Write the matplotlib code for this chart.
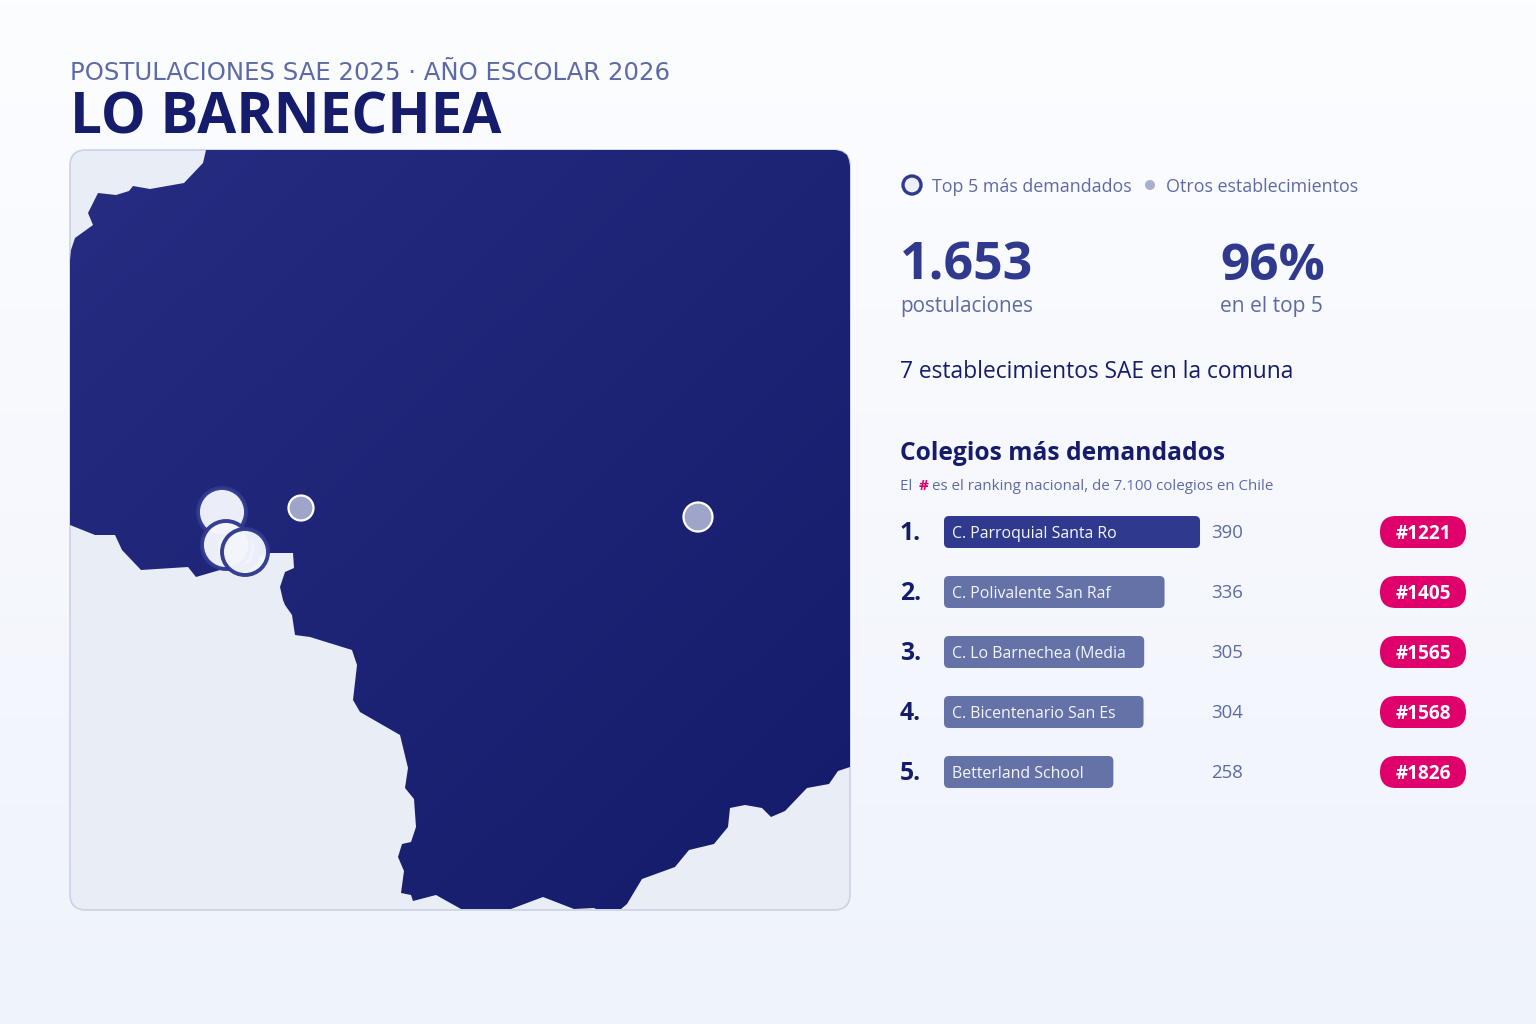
import numpy as np
import matplotlib
matplotlib.use("Agg")
import matplotlib.pyplot as plt
from matplotlib.patches import FancyBboxPatch, Circle, Polygon
from matplotlib.colors import LinearSegmentedColormap

plt.rcParams['font.family'] = ['Open Sans', 'DejaVu Sans']

# ---- data ----
schools = ["C. Parroquial Santa Ro", "C. Polivalente San Raf", "C. Lo Barnechea (Media",
           "C. Bicentenario San Es", "Betterland School"]
applications = [390, 336, 305, 304, 258]
ranks = ["#1221", "#1405", "#1565", "#1568", "#1826"]

commune_x = [206,203,184,150,133,129,116,98,88,93,75,71,70,70,95,115,122,141,188,196,220,270,293,294,285,280,283,
             285,292,295,310,352,357,353,360,400,408,405,414,416,411,402,398,404,401,411,413,436,461,511,543,574,
             594,596,621,627,642,675,689,714,728,730,745,762,771,785,807,829,838,850,850,849,847,842,836]
commune_y = [150,163,183,189,186,191,195,193,213,225,238,250,260,525,535,535,550,570,567,577,570,553,553,568,572,587,600,
             605,615,635,637,650,665,700,712,735,768,788,799,827,842,844,857,871,893,895,901,895,909,909,897,909,
             908,909,909,904,879,867,850,844,827,808,805,808,817,811,788,784,771,767,166,160,155,151.5,150]

top_x = [239, 236, 222, 226, 245]
top_y = [552, 549, 512, 545, 552]
top_r = [19, 20, 24, 24, 23]
other_x = [301, 698]
other_y = [508, 517]
other_r = [12.5, 14.5]

INK = '#151c6b'; BLUE = '#2f3a8f'; MUTED = '#5d6aa5'; PINK = '#e0006b'
W, H = 1536, 1024

fig = plt.figure(figsize=(15.36, 10.24), dpi=100)
bg = fig.add_axes([0, 0, 1, 1], zorder=0)
bg.set_xlim(0, W); bg.set_ylim(H, 0); bg.axis('off')
bgc = LinearSegmentedColormap.from_list('bg', ['#fcfdff', '#f6f8fd', '#eff3fb'])
bg.imshow(np.linspace(0, 1, 256)[:, None], cmap=bgc, extent=[0, W, H, 0], aspect='auto', zorder=0)
bg.set_xlim(0, W); bg.set_ylim(H, 0)

fg = fig.add_axes([0, 0, 1, 1], zorder=5)
fg.set_xlim(0, W); fg.set_ylim(H, 0); fg.axis('off'); fg.patch.set_alpha(0)

def T(x, y, s, size, color, weight='normal', ha='left', va='baseline', **kw):
    return fg.text(x, y, s, fontsize=size, color=color, fontweight=weight, ha=ha, va=va, **kw)

# ---- header ----
T(70, 80, "POSTULACIONES SAE 2025 · AÑO ESCOLAR 2026", 17.55, MUTED, family=['DejaVu Sans'])
T(70, 133, "LO BARNECHEA", 40.7, INK, 'bold')

# ---- map ----
mp = fig.add_axes([70/W, 1-910/H, 780/W, 760/H], zorder=1)
mp.set_xlim(70, 850); mp.set_ylim(910, 150); mp.axis('off')
card = FancyBboxPatch((70, 150), 780, 760, boxstyle='round,pad=0,rounding_size=16',
                      fc='#e9edf6', ec='#ccd2e5', lw=1.2, zorder=1, clip_on=False)
mp.add_patch(card)
poly = Polygon(np.column_stack([commune_x, commune_y]), closed=True, fc='none', ec='none',
               transform=mp.transData, zorder=2)
mp.add_patch(poly)
gx, gy = np.meshgrid(np.linspace(0, 1, 300), np.linspace(0, 1, 300))
mapc = LinearSegmentedColormap.from_list('m', ['#262d82', '#141b69'])
im = mp.imshow((gx + gy) / 2, cmap=mapc, extent=[70, 850, 910, 150], aspect='auto', zorder=2)
im.set_clip_path(poly)
mp.set_xlim(70, 850); mp.set_ylim(910, 150)

for x, y, r in zip(other_x, other_y, other_r):
    mp.add_patch(Circle((x, y), r, fc='#9ea5c9', ec='white', lw=1.6, zorder=3))
for i, (x, y, r) in enumerate(zip(top_x, top_y, top_r)):
    mp.add_patch(Circle((x, y), r, fc='#f3f6fd', ec=BLUE, lw=2.8, alpha=0.97, zorder=4 + i))

# ---- legend ----
fg.add_patch(Circle((912, 185), 9, fc='#eef1fb', ec=BLUE, lw=2.4, zorder=3))
T(932, 192, "Top 5 más demandados", 12.9, MUTED)
fg.add_patch(Circle((1150, 185), 5, fc='#a9afd0', ec='none', zorder=3))
T(1166, 192, "Otros establecimientos", 12.9, MUTED)

# ---- KPIs ----
T(900, 280, "1.653", 37.4, BLUE, 'bold')
T(900, 312, "postulaciones", 14.9, MUTED)
T(1220, 280, "96%", 37, BLUE, 'bold')
T(1220, 312, "en el top 5", 15.1, MUTED)
T(900, 378, "7 establecimientos SAE en la comuna", 16.4, INK)

# ---- ranking ----
T(900, 460, "Colegios más demandados", 17.7, INK, 'bold')
r = fig.canvas.get_renderer()
t1 = T(900, 490, "El ", 10.9, MUTED)
x1 = fg.transData.inverted().transform(t1.get_window_extent(r))[1, 0] + 2
t2 = T(x1, 490, "#", 10.9, PINK, 'bold')
x2 = fg.transData.inverted().transform(t2.get_window_extent(r))[1, 0] + 4
T(x2, 490, "es el ranking nacional, de 7.100 colegios en Chile", 10.9, MUTED)

ba = fig.add_axes([944/W, 1-802/H, 256/W, 300/H], zorder=2)
ba.set_xlim(0, 390); ba.set_ylim(4.5, -0.5); ba.axis('off')
ux = 390 / 256; uy = 1 / 60
for i, (name, v, rk) in enumerate(zip(schools, applications, ranks)):
    ba.add_patch(FancyBboxPatch((0, i - 16 * uy), v, 32 * uy,
                                boxstyle=f'round,pad=0,rounding_size={5 * ux}',
                                mutation_aspect=uy / ux,
                                fc=BLUE if i == 0 else '#6472a8', ec='none', clip_on=False))
    yc = 532 + 60 * i
    T(900, yc + 8, f"{i + 1}.", 17.8, INK, 'bold')
    T(952, yc + 6, name, 11.45, '#f4f6fd')
    T(1211.5, yc + 6, str(v), 13.4, MUTED)
    fg.add_patch(FancyBboxPatch((1380, yc - 16), 86, 32, boxstyle='round,pad=0,rounding_size=16',
                                fc=PINK, ec='none', zorder=3))
    T(1423, yc + 7, rk, 13.7, 'white', 'bold', ha='center', zorder=4)

fig.savefig('out.png', dpi=100)
